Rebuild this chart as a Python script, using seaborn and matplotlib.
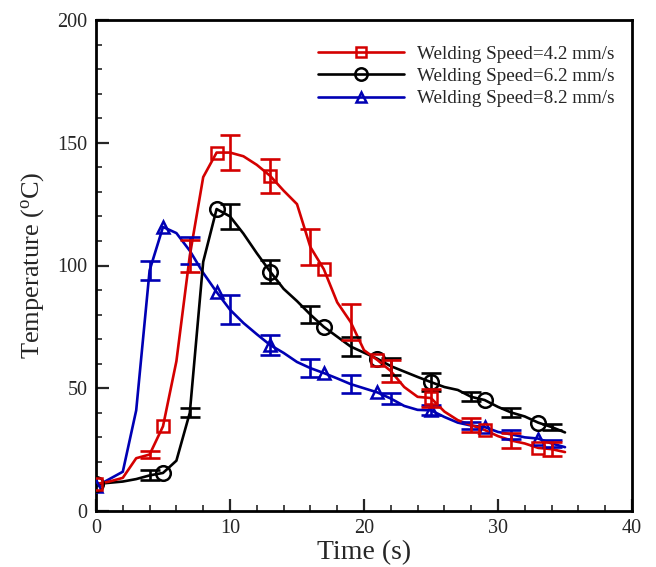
import numpy as np
import pandas as pd
import matplotlib
matplotlib.use('Agg')
import matplotlib.pyplot as plt
import seaborn as sns
from matplotlib.lines import Line2D
from matplotlib.ticker import MultipleLocator

# ---- data ----
time = list(range(36))
temp_42 = [11, 12, 13.5, 21.5, 23, 34.5, 61, 104, 136, 146, 146, 144.5, 141, 136.5, 130.5, 125,
           107.5, 98.5, 85, 77, 65.5, 61.5, 57, 50.5, 46.5, 46, 40.5, 37, 35, 33, 30.5, 28.7,
           27.5, 25.7, 25.2, 24]
temp_62 = [11, 11.5, 12, 13, 14.5, 15.5, 20.5, 40, 101.5, 123, 120, 113, 105, 97.5, 90.5, 85.5,
           80, 75, 71, 67, 64.5, 62, 59, 56.8, 54.6, 52.5, 50.5, 49.3, 46.5, 45.2, 42.4, 40.1,
           38.5, 36, 34.2, 32]
temp_82 = [10, 13, 16, 41, 98, 115.7, 113.2, 106, 97, 89.2, 82, 76.6, 72, 67.6, 64.4, 60.7,
           58.2, 56.2, 54, 51.7, 50, 48.3, 45.8, 42.8, 41.2, 41, 38.3, 36, 34.8, 34.2, 32.2, 31.2,
           30, 29.5, 27.5, 26]
marker_times = [0, 5, 9, 13, 17, 21, 25, 29, 33]
err_times = [4, 7, 10, 13, 16, 19, 22, 25, 28, 31, 34]
err_42 = [1.5, 6.5, 7, 7, 7.2, 7.5, 4.5, 3.5, 3, 3, 2.8]
err_62 = [2, 1.8, 5, 4.7, 3.6, 3.7, 3.5, 3.8, 1.8, 1.9, 1.2]
err_82 = [4, 5.5, 6, 4, 3.7, 3.7, 2.2, 2, 1.5, 1.8, 1.4]
labels = ['Welding Speed=4.2 mm/s', 'Welding Speed=6.2 mm/s', 'Welding Speed=8.2 mm/s']
colors = ['#d40000', '#000000', '#0000b4']
markers = ['s', 'o', '^']
msizes = [8, 10.5, 9]

series = [temp_42, temp_62, temp_82]
errs = [err_42, err_62, err_82]

sns.set_style('ticks')
plt.rcParams['font.family'] = ['Liberation Serif', 'DejaVu Serif']
plt.rcParams['mathtext.fontset'] = 'custom'
plt.rcParams['mathtext.rm'] = 'Liberation Serif'
plt.rcParams['mathtext.it'] = 'Liberation Serif:italic'

fig = plt.figure(figsize=(6.56, 5.67), dpi=100)
ax = fig.add_axes([96 / 656, 1 - 511 / 567, (632 - 96) / 656, (511 - 20) / 567])

df = pd.DataFrame({
    'Time': time * 3,
    'Temp': temp_42 + temp_62 + temp_82,
    'Series': [labels[0]] * 36 + [labels[1]] * 36 + [labels[2]] * 36,
})
order = [2, 1, 0]
for i in order:
    sub = df[df['Series'] == labels[i]]
    sns.lineplot(data=sub, x='Time', y='Temp', color=colors[i], lw=1.9, ax=ax,
                 legend=False, zorder=2)
    mt = sub[sub['Time'].isin(marker_times)]
    sns.lineplot(data=mt, x='Time', y='Temp', color=colors[i], marker=markers[i],
                 linestyle='none', markersize=msizes[i], markerfacecolor='none',
                 markeredgecolor=colors[i], markeredgewidth=1.8, ax=ax, legend=False,
                 zorder=3)
    centers = [series[i][time.index(t)] for t in err_times]
    ax.errorbar(err_times, centers, yerr=errs[i], fmt='none', ecolor=colors[i],
                elinewidth=1.9, capsize=7.2, capthick=1.9, zorder=3)

ax.set_xlim(0, 40)
ax.set_ylim(0, 200)
ax.xaxis.set_major_locator(MultipleLocator(10))
ax.xaxis.set_minor_locator(MultipleLocator(2))
ax.yaxis.set_major_locator(MultipleLocator(50))
ax.yaxis.set_minor_locator(MultipleLocator(10))
ax.tick_params(which='major', direction='in', length=9, width=1.6, labelsize=14.5,
               top=False, right=False, pad=6)
ax.tick_params(which='minor', direction='in', length=4.5, width=1.2, top=False, right=False)
for s in ax.spines.values():
    s.set_linewidth(2)
    s.set_color('black')

ax.set_xlabel('Time (s)', fontsize=20, labelpad=1)
ax.set_ylabel('Temperature ($^{\\mathrm{o}}$C)', fontsize=19, labelpad=8)

handles = [Line2D([], [], color=colors[i], lw=1.9, marker=markers[i], markersize=msizes[i] * 0.85,
                  markerfacecolor='none', markeredgewidth=1.8) for i in range(3)]
ax.legend(handles, labels, frameon=False, loc='upper left', bbox_to_anchor=(0.414, 0.948),
          borderpad=0, borderaxespad=0, fontsize=13.8, handlelength=4.5, handletextpad=0.65,
          labelspacing=0.25, numpoints=1)

fig.savefig('out.png', dpi=100)
